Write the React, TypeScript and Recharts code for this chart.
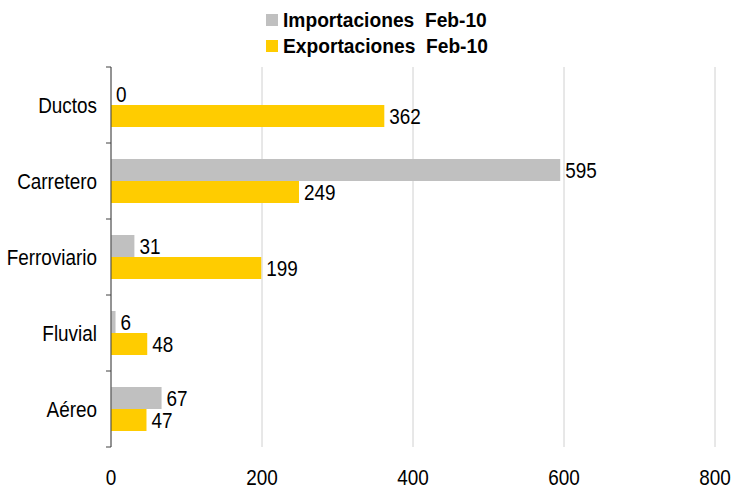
import React from 'react';
import { BarChart, Bar, XAxis, YAxis, CartesianGrid, LabelList } from 'recharts';

const categories = ['Ductos', 'Carretero', 'Ferroviario', 'Fluvial', 'Aéreo'];
const importaciones = [0, 595, 31, 6, 67];
const exportaciones = [362, 249, 199, 48, 47];
const xTicks = [0, 200, 400, 600, 800];

const seriesNames = ['Importaciones  Feb-10', 'Exportaciones  Feb-10'];
const seriesColors = ['#c0c0c0', '#ffcc00'];

const data = categories.map((c, i) => ({
  name: c,
  imp: importaciones[i],
  exp: exportaciones[i],
}));

const FONT = '"Liberation Sans", Arial, sans-serif';
const FS = 22;
const SX = 0.86;
const TICK_MARGIN = 14;
const BRACKET = 5;

const NText = ({ x, y, anchor, baseline, children }: any) => (
  <text
    transform={`translate(${x},${y}) scale(${SX},1)`}
    x={0}
    y={0}
    textAnchor={anchor}
    dominantBaseline={baseline}
    fontSize={FS}
    fill="#000"
    fontFamily={FONT}
  >
    {children}
  </text>
);

const CatTick = (props: any) => {
  const { x, y, payload, index, visibleTicksCount } = props;
  const half = payload && typeof payload.offset === 'number' ? payload.offset : 0;
  const ax = x + TICK_MARGIN;
  const last = index === (visibleTicksCount ?? 5) - 1;
  return (
    <g>
      <NText x={x} y={y} anchor="end" baseline="central">{payload.value}</NText>
      {half > 0 && <line x1={ax - BRACKET} x2={ax} y1={y - half} y2={y - half} stroke="#404040" />}
      {half > 0 && last && <line x1={ax - BRACKET} x2={ax} y1={y + half} y2={y + half} stroke="#404040" />}
    </g>
  );
};

const XTick = (props: any) => {
  const { x, y, payload } = props;
  return <NText x={x} y={y + FS * 0.72} anchor="middle" baseline="alphabetic">{payload.value}</NText>;
};

const BarLabel = (props: any) => {
  const { x, y, width, height, value } = props;
  return <NText x={x + width + 5} y={y + height / 2} anchor="start" baseline="central">{value}</NText>;
};

export default function App() {
  return (
    <div style={{ position: 'absolute', left: 0, top: 0, width: 734, height: 488, background: '#fff', fontFamily: FONT }}>
      <BarChart
        width={734}
        height={488}
        data={data}
        layout="vertical"
        margin={{ top: 67, right: 19, bottom: 0, left: 0 }}
        barGap={0}
        barCategoryGap={16}
      >
        <CartesianGrid horizontal={false} stroke="#d0d0d0" />
        <XAxis
          type="number"
          domain={[0, 800]}
          ticks={xTicks}
          axisLine={false}
          tickLine={false}
          tickSize={0}
          tickMargin={22}
          height={41}
          tick={<XTick />}
        />
        <YAxis
          type="category"
          dataKey="name"
          width={111}
          axisLine={{ stroke: '#404040' }}
          tickLine={false}
          tickSize={0}
          tickMargin={TICK_MARGIN}
          tick={<CatTick />}
        />
        <Bar dataKey="imp" name={seriesNames[0]} fill={seriesColors[0]} minPointSize={0.01} isAnimationActive={false}>
          <LabelList dataKey="imp" content={<BarLabel />} />
        </Bar>
        <Bar dataKey="exp" name={seriesNames[1]} fill={seriesColors[1]} isAnimationActive={false}>
          <LabelList dataKey="exp" content={<BarLabel />} />
        </Bar>
      </BarChart>
      <div style={{ position: 'absolute', left: 266, top: 7 }}>
        {seriesNames.map((n, i) => (
          <div key={n} style={{ display: 'flex', alignItems: 'center', height: 26 }}>
            <div style={{ width: 12, height: 12, background: seriesColors[i], marginRight: 5 }} />
            <span style={{ fontSize: 20, fontWeight: 'bold', color: '#000', whiteSpace: 'pre', fontFamily: FONT, display: 'inline-block', transform: 'scaleX(0.96)', transformOrigin: 'left center' }}>{n}</span>
          </div>
        ))}
      </div>
    </div>
  );
}
